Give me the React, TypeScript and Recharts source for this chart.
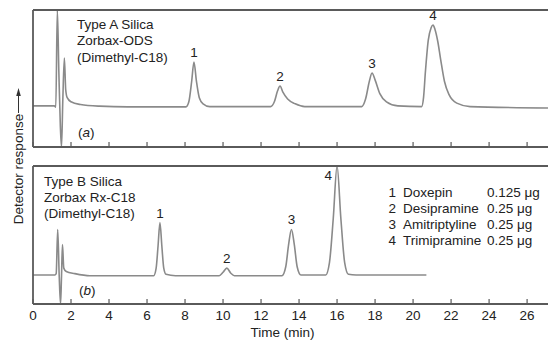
import React from 'react';
import { LineChart, Line, XAxis, YAxis, ReferenceDot } from 'recharts';

const FONT = '"Liberation Sans", Arial, Helvetica, sans-serif';
const TRACE = '#8a8a8a';
const FRAME = '#5a5a5a';
const INK = '#222';
const FS = 13.5;

// time axis (min)
const timeTicks = [0, 2, 4, 6, 8, 10, 12, 14, 16, 18, 20, 22, 24, 26];
const timeMax = 27.1;

// (a) Type A silica, Zorbax-ODS — detector response
const timeA = [
  0, 1.12, 1.2, 1.28, 1.36, 1.44, 1.5, 1.57, 1.65, 1.72, 1.8, 2.0, 2.5, 3.5, 5,
  8.05, 8.2, 8.35, 8.47, 8.6, 8.75, 8.95, 9.3,
  12.5, 12.7, 12.87, 13.0, 13.15, 13.4, 13.8, 14.3,
  17.3, 17.5, 17.7, 17.84, 18.0, 18.25, 18.6, 19.2,
  20.45, 20.55, 20.65, 20.8, 20.95, 21.05, 21.15, 21.3, 21.45, 21.65, 21.9, 22.3, 23.0, 27.1,
];
const respA = [
  30, 30, 29, 100, 55, 15, 0, 35, 65, 42, 36, 33, 31, 29.8, 29.3,
  29.3, 33, 48, 62, 48, 36, 31.5, 29.5,
  29.5, 33, 41, 44.5, 40, 35, 31.5, 29.5,
  29.5, 35, 48, 54, 49, 39, 33, 30,
  29.5, 36, 55, 78, 87, 89, 86, 77, 64, 48, 38, 32, 29.5, 28.5,
];

// (b) Type B silica, Zorbax Rx-C18
const timeB = [
  0, 1.15, 1.22, 1.3, 1.38, 1.45, 1.5, 1.55, 1.62, 1.75, 2.2, 3.0,
  6.35, 6.48, 6.58, 6.68, 6.78, 6.88, 7.0, 7.5,
  9.8, 10.0, 10.2, 10.4, 10.6,
  13.1, 13.3, 13.45, 13.6, 13.75, 13.9, 14.1,
  15.4, 15.6, 15.8, 16.0, 16.2, 16.4, 16.6, 17.0, 20.7,
];
const respB = [
  21, 21, 22, 54, 20, 0, 20, 43, 26, 23.5, 22, 20.5,
  20.5, 26, 42, 59, 42, 26, 21.5, 20.5,
  20.5, 23, 26, 22.5, 20.5,
  20.5, 27, 43, 54, 43, 27, 21,
  21, 30, 62, 100, 62, 30, 21.5, 21, 21,
];

// peak numbers
const peakNums = ['1', '2', '3', '4'];
const peakTimeA = [8.47, 13.0, 17.84, 21.05];
const peakRespA = [62, 44.5, 54, 89];
const peakTimeB = [6.68, 10.2, 13.6, 16.0];
const peakRespB = [59, 26, 54, 100];

// legend
const compounds = ['Doxepin', 'Desipramine', 'Amitriptyline', 'Trimipramine'];
const amounts = ['0.125 μg', '0.25 μg', '0.25 μg', '0.25 μg'];

const dataA = timeA.map((t, i) => ({ t, r: respA[i] }));
const dataB = timeB.map((t, i) => ({ t, r: respB[i] }));

const PeakTag = ({ viewBox, num, side }: any) => {
  const { x, y } = viewBox;
  if (side === 'left') {
    return <text x={x - 5} y={y + 14} textAnchor="end" fontSize={FS} fill={INK} fontFamily={FONT}>{num}</text>;
  }
  return <text x={x} y={y - 5} textAnchor="middle" fontSize={FS} fill={INK} fontFamily={FONT}>{num}</text>;
};

const TimeTick = (p: any) => (
  <text x={p.x} y={p.y + 21} textAnchor="middle" fontSize={FS} fill={INK} fontFamily={FONT}>{p.payload.value}</text>
);

const NoTick = () => <g />;

export default function App() {
  const frame = { stroke: FRAME, strokeWidth: 1.8 };
  return (
    <div style={{ position: 'fixed', left: 0, top: 0, width: 548, height: 341, background: '#fff', fontFamily: FONT }}>
      {/* panel (a) */}
      <div style={{ position: 'absolute', left: 0, top: 0 }}>
        <LineChart width={548} height={148} data={dataA} margin={{ top: 9, right: 0, bottom: 0, left: 0 }}>
          <XAxis xAxisId="top" orientation="top" dataKey="t" type="number" domain={[0, timeMax]} height={1} tick={false} tickLine={false} axisLine={frame} />
          <XAxis dataKey="t" type="number" domain={[0, timeMax]} ticks={timeTicks} height={1} tickSize={-5} tickMargin={0} tick={NoTick} tickLine={{ stroke: FRAME, strokeWidth: 1.2 }} axisLine={frame} />
          <YAxis type="number" domain={[0, 100]} width={33} tick={false} tickLine={false} axisLine={frame} />
          <Line type="monotone" dataKey="r" stroke={TRACE} strokeWidth={1.6} dot={false} isAnimationActive={false} />
          {peakNums.map((n, i) => (
            <ReferenceDot key={n} x={peakTimeA[i]} y={peakRespA[i]} r={0} fill="none" stroke="none" label={<PeakTag num={n} />} />
          ))}
        </LineChart>
      </div>

      {/* panel (b) */}
      <div style={{ position: 'absolute', left: 0, top: 156 }}>
        <LineChart width={548} height={185} data={dataB} margin={{ top: 9, right: 0, bottom: 0, left: 0 }}>
          <XAxis xAxisId="top" orientation="top" dataKey="t" type="number" domain={[0, timeMax]} height={1} tick={false} tickLine={false} axisLine={frame} />
          <XAxis dataKey="t" type="number" domain={[0, timeMax]} ticks={timeTicks} height={37} tickSize={-5} tickMargin={0} tick={TimeTick} tickLine={{ stroke: FRAME, strokeWidth: 1.2 }} axisLine={frame}
            label={{ content: ({ viewBox }: any) => (
              <text x={viewBox.x + viewBox.width / 2 - 8} y={viewBox.y + 33} textAnchor="middle" fontSize={FS} fill={INK} fontFamily={FONT}>Time (min)</text>
            ) }} />
          <YAxis type="number" domain={[0, 100]} width={33} tick={false} tickLine={false} axisLine={frame} />
          <Line type="monotone" dataKey="r" stroke={TRACE} strokeWidth={1.6} dot={false} isAnimationActive={false} />
          {peakNums.map((n, i) => (
            <ReferenceDot key={n} x={peakTimeB[i]} y={peakRespB[i]} r={0} fill="none" stroke="none" label={<PeakTag num={n} side={i === 3 ? 'left' : 'top'} />} />
          ))}
        </LineChart>
      </div>

      {/* annotations */}
      <svg width={548} height={341} style={{ position: 'absolute', left: 0, top: 0, pointerEvents: 'none' }} fontFamily={FONT} fontSize={FS} fill={INK}>
        <text x={77} y={28.5}>Type A Silica</text>
        <text x={77} y={45}>Zorbax-ODS</text>
        <text x={77} y={61.5}>(Dimethyl-C18)</text>
        <text x={78} y={136.5}>(<tspan fontStyle="italic">a</tspan>)</text>

        <text x={44} y={186}>Type B Silica</text>
        <text x={44} y={202}>Zorbax Rx-C18</text>
        <text x={44} y={218}>(Dimethyl-C18)</text>
        <text x={79} y={295}>(<tspan fontStyle="italic">b</tspan>)</text>

        {compounds.map((c, i) => (
          <g key={c}>
            <text x={396} y={196.5 + 16 * i} textAnchor="end">{peakNums[i]}</text>
            <text x={403} y={196.5 + 16 * i}>{c}</text>
            <text x={487} y={196.5 + 16 * i}>{amounts[i]}</text>
          </g>
        ))}

        <text transform="translate(22.5,169) rotate(-90)" textAnchor="middle">Detector response</text>
        <line x1={18.5} y1={113} x2={18.5} y2={94} stroke="#333" strokeWidth={1} />
        <polygon points="18.5,88 16.2,96 20.8,96" fill="#333" />
      </svg>
    </div>
  );
}
